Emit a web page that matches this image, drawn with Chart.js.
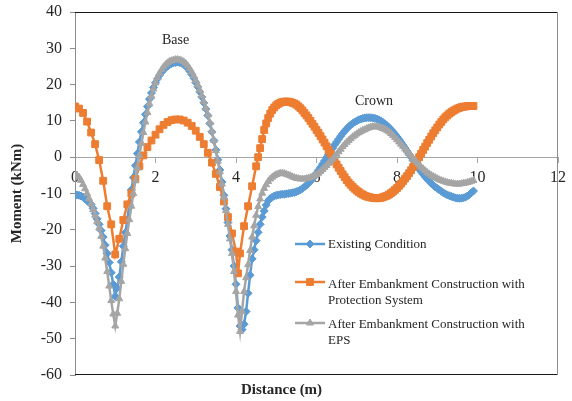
<!DOCTYPE html>
<html><head><meta charset="utf-8">
<script src="https://cdn.jsdelivr.net/npm/chart.js@4"></script>
<style>html,body{margin:0;padding:0;background:#fff}#wrap{width:572px;height:401px}</style>
</head><body><div id="wrap"><canvas id="c" width="572" height="401"></canvas></div>
<script>
// Distance (m) sampling used by the "Existing" and "EPS" series
const distanceFine = [0,0.05,0.1,0.15,0.2,0.25,0.3,0.35,0.4,0.45,0.5,0.55,0.6,0.65,0.7,0.75,0.8,0.85,0.9,0.95,
1,1.05,1.1,1.15,1.2,1.25,1.3,1.35,1.4,1.45,1.5,1.55,1.6,1.65,1.7,1.75,1.8,1.85,1.9,1.95,
2,2.05,2.1,2.15,2.2,2.25,2.3,2.35,2.4,2.45,2.5,2.55,2.6,2.65,2.7,2.75,2.8,2.85,2.9,2.95,
3,3.05,3.1,3.15,3.2,3.25,3.3,3.35,3.4,3.45,3.5,3.55,3.6,3.65,3.7,3.75,3.8,3.85,3.9,3.95,
4,4.05,4.1,4.15,4.2,4.25,4.3,4.35,4.4,4.45,4.5,4.55,4.6,4.65,4.7,4.75,4.8,4.85,4.9,4.95,
5,5.05,5.1,5.15,5.2,5.25,5.3,5.35,5.4,5.45,5.5,5.55,5.6,5.65,5.7,5.75,5.8,5.85,5.9,5.95,
6,6.05,6.1,6.15,6.2,6.25,6.3,6.35,6.4,6.45,6.5,6.55,6.6,6.65,6.7,6.75,6.8,6.85,6.9,6.95,
7,7.05,7.1,7.15,7.2,7.25,7.3,7.35,7.4,7.45,7.5,7.55,7.6,7.65,7.7,7.75,7.8,7.85,7.9,7.95,
8,8.05,8.1,8.15,8.2,8.25,8.3,8.35,8.4,8.45,8.5,8.55,8.6,8.65,8.7,8.75,8.8,8.85,8.9,8.95,
9,9.05,9.1,9.15,9.2,9.25,9.3,9.35,9.4,9.45,9.5,9.55,9.6,9.65,9.7,9.75,9.8,9.85,9.9];
const existing = [-10.5,-10.4,-10.5,-10.7,-11.0,-11.4,-12.0,-12.4,-13.0,-14.1,-15.5,-17.0,-18.5,-20.2,-22.0,-24.2,-26.5,-29.0,-31.8,-35.0,
-38.3,-36.0,-33.0,-28.8,-24.5,-20.8,-17.3,-13.0,-9.0,-5.6,-2.3,1.0,4.2,7.0,9.5,11.8,14.0,16.0,17.7,19.2,
20.5,21.6,22.6,23.4,24.1,24.6,25.1,25.5,25.8,26.0,26.1,26.2,26.1,25.9,25.6,25.1,24.5,23.7,22.8,21.8,
20.6,19.4,18.0,16.6,15.0,13.3,11.5,9.3,7.0,4.6,2.0,-0.7,-3.5,-6.8,-10.5,-14.2,-18.0,-21.7,-25.5,-30.0,
-35.0,-41.5,-46.5,-47.5,-46.0,-42.5,-37.5,-32.5,-28.0,-25.5,-23.0,-20.7,-18.5,-16.5,-14.8,-13.2,-12.0,-11.4,-11.0,-10.7,
-10.5,-10.4,-10.3,-10.2,-10.2,-10.1,-10.0,-9.9,-9.8,-9.7,-9.5,-9.3,-9.0,-8.6,-8.2,-7.7,-7.2,-6.6,-5.9,-5.2,
-4.4,-3.6,-2.8,-1.9,-1.0,-0.1,0.8,1.7,2.5,3.4,4.2,5.0,5.8,6.5,7.2,7.8,8.4,8.9,9.3,9.7,
10.0,10.3,10.5,10.7,10.8,10.9,10.9,10.9,10.8,10.7,10.5,10.3,10.0,9.6,9.2,8.7,8.2,7.6,7.0,6.3,
5.6,4.9,4.1,3.3,2.5,1.7,0.8,0.0,-0.9,-1.7,-2.5,-3.3,-4.0,-4.7,-5.4,-6.0,-6.6,-7.2,-7.7,-8.2,
-8.6,-9.0,-9.4,-9.8,-10.1,-10.4,-10.6,-10.8,-11.0,-11.2,-11.3,-11.3,-11.3,-11.2,-11.0,-10.7,-10.3,-9.8,-9.3];
const eps = [-4.8,-5.0,-5.5,-6.4,-7.5,-8.7,-10.0,-11.4,-12.8,-14.4,-16.0,-17.7,-19.5,-21.8,-24.5,-27.8,-31.5,-35.5,-39.5,-43.2,
-46.5,-43.0,-39.0,-34.2,-29.5,-25.2,-21.0,-17.2,-13.5,-10.0,-6.5,-3.0,0.5,3.8,6.8,9.7,12.3,14.7,16.8,18.8,
20.5,21.9,23.1,24.1,24.9,25.5,26.0,26.4,26.6,26.8,26.9,26.9,26.8,26.6,26.3,25.8,25.2,24.4,23.5,22.4,
21.2,19.9,18.5,17.0,15.3,13.5,11.7,9.5,7.2,4.6,1.8,-1.1,-4.0,-7.4,-11.0,-14.7,-18.5,-22.5,-26.5,-31.5,
-37.0,-43.5,-48.0,-42.5,-37.0,-33.2,-29.6,-25.7,-22.0,-18.9,-16.0,-13.6,-11.5,-9.9,-8.6,-7.6,-6.7,-6.0,-5.5,-5.1,
-4.8,-4.6,-4.4,-4.4,-4.5,-4.7,-4.9,-5.1,-5.4,-5.6,-5.8,-5.9,-6.0,-6.0,-6.0,-5.9,-5.8,-5.6,-5.4,-5.1,
-4.8,-4.4,-3.9,-3.4,-2.8,-2.3,-1.7,-1.1,-0.5,0.2,0.8,1.5,2.2,2.9,3.5,4.1,4.6,5.1,5.6,6.0,
6.4,6.8,7.1,7.4,7.6,7.9,8.1,8.3,8.4,8.4,8.4,8.3,8.1,7.9,7.7,7.4,7.0,6.5,6.0,5.4,
4.8,4.2,3.6,3.0,2.3,1.7,1.0,0.4,-0.3,-0.9,-1.5,-2.1,-2.7,-3.2,-3.7,-4.2,-4.6,-5.0,-5.3,-5.6,
-5.9,-6.2,-6.4,-6.6,-6.8,-7.0,-7.1,-7.2,-7.3,-7.4,-7.4,-7.4,-7.3,-7.2,-7.1,-7.0,-6.8,-6.6,-6.4];
// Distance (m) sampling used by the "Protection System" series
const distanceProt = [0,0.1,0.2,0.3,0.4,0.5,0.6,0.7,0.8,0.9,1.0,1.1,1.2,1.3,1.4,1.5,1.6,1.7,1.8,1.9,
2.0,2.1,2.2,2.3,2.4,2.5,2.6,2.7,2.8,2.9,3.0,3.1,3.2,3.3,3.4,3.5,3.6,3.7,3.8,3.9,
4.0,4.05,4.1,4.2,4.3,4.4,
4.5,4.55,4.6,4.65,4.7,4.75,4.8,4.85,4.9,4.95,
5,5.05,5.1,5.15,5.2,5.25,5.3,5.35,5.4,5.45,5.5,5.55,5.6,5.65,5.7,5.75,5.8,5.85,5.9,5.95,
6,6.05,6.1,6.15,6.2,6.25,6.3,6.35,6.4,6.45,6.5,6.55,6.6,6.65,6.7,6.75,6.8,6.85,6.9,6.95,
7,7.05,7.1,7.15,7.2,7.25,7.3,7.35,7.4,7.45,7.5,7.55,7.6,7.65,7.7,7.75,7.8,7.85,7.9,7.95,
8,8.05,8.1,8.15,8.2,8.25,8.3,8.35,8.4,8.45,8.5,8.55,8.6,8.65,8.7,8.75,8.8,8.85,8.9,8.95,
9,9.05,9.1,9.15,9.2,9.25,9.3,9.35,9.4,9.45,9.5,9.55,9.6,9.65,9.7,9.75,9.8,9.85,9.9];
const protection = [14.0,13.4,12.2,9.8,6.8,3.6,-0.8,-6.5,-13.5,-18.5,-26.8,-22.5,-17.3,-13.0,-10.0,-6.0,-2.5,0.5,2.8,4.6,
6.2,7.7,8.9,9.7,10.2,10.4,10.4,10.1,9.5,8.6,7.3,5.6,3.6,1.2,-1.5,-4.6,-8.2,-12.2,-16.5,-21.0,
-26.0,-32.0,-26.5,-19.0,-13.5,-8.0,
-2.5,0.0,2.5,5.0,7.5,9.3,10.8,12.0,13.0,13.7,
14.3,14.7,15.0,15.2,15.3,15.35,15.3,15.2,15.0,14.8,14.5,14.0,13.5,12.9,12.2,11.5,10.8,10.0,9.2,8.4,
7.5,6.7,5.8,4.9,4.0,3.0,2.0,1.0,0.0,-1.0,-2.0,-2.9,-3.8,-4.7,-5.5,-6.3,-7.0,-7.6,-8.2,-8.7,
-9.2,-9.6,-10.0,-10.3,-10.6,-10.8,-11.0,-11.1,-11.2,-11.3,-11.3,-11.3,-11.2,-11.0,-10.8,-10.6,-10.3,-9.9,-9.5,-9.0,
-8.5,-7.9,-7.3,-6.6,-5.9,-5.2,-4.4,-3.6,-2.7,-1.8,-0.9,0.0,1.0,2.0,2.9,3.9,4.8,5.7,6.6,7.4,
8.2,9.0,9.7,10.4,11.0,11.5,12.0,12.4,12.8,13.1,13.4,13.6,13.8,13.9,14.0,14.05,14.1,14.1,14.1];
const seriesNames = ['Existing Condition', 'After Embankment Construction with Protection System', 'After Embankment Construction with EPS'];
const legendLines = [['Existing Condition'], ['After Embankment Construction with', 'Protection System'], ['After Embankment Construction with', 'EPS']];
const xTicks = [0,2,4,6,8,10,12];
const yTicks = [-60,-50,-40,-30,-20,-10,0,10,20,30,40];
const notes = [{text:'Base', x:2.5, y:32.2}, {text:'Crown', x:7.43, y:15.4}];

const SERIF = "'Liberation Serif', 'Times New Roman', serif";
const colors = ['#5b9bd5', '#ed7d31', '#a5a5a5'];
const styles = ['rectRot', 'rect', 'triangle'];
const radii = [4, 4.8, 4];
const xs = [distanceFine, distanceProt, distanceFine];
const values = [existing, protection, eps];

function pts(xArr, yArr){
  const n = Math.min(xArr.length, yArr.length);
  const out = [];
  for (let i=0;i<n;i++) out.push({x:xArr[i], y:yArr[i]});
  return out;
}

const datasets = values.map((arr,k)=>({
  label: seriesNames[k],
  data: pts(xs[k], arr),
  borderColor: colors[k],
  backgroundColor: colors[k],
  pointBackgroundColor: colors[k],
  pointBorderColor: colors[k],
  pointBorderWidth: 1,
  pointStyle: styles[k],
  pointRadius: radii[k],
  borderWidth: 2.5,
  tension: 0,
  order: 3-k
}));

const framePlugin = {
  id:'frame',
  beforeDatasetsDraw(chart){
    const {ctx, chartArea:a} = chart;
    ctx.save();
    ctx.lineWidth = 1;
    ctx.strokeStyle = '#1a1a1a';
    ctx.beginPath();
    ctx.moveTo(a.left, a.top+0.5); ctx.lineTo(a.right, a.top+0.5);
    ctx.moveTo(a.left, a.bottom-0.5); ctx.lineTo(a.right, a.bottom-0.5);
    ctx.stroke();
    ctx.strokeStyle = '#8c8c8c';
    ctx.beginPath();
    ctx.moveTo(a.right-0.5, a.top); ctx.lineTo(a.right-0.5, a.bottom);
    ctx.stroke();
    ctx.restore();
  }
};

const notesPlugin = {
  id:'notes',
  afterDatasetsDraw(chart){
    const {ctx, scales} = chart;
    ctx.save();
    ctx.font = '14px ' + SERIF;
    ctx.fillStyle = '#262626';
    ctx.textAlign = 'center';
    ctx.textBaseline = 'middle';
    notes.forEach(n=>ctx.fillText(n.text, scales.x.getPixelForValue(n.x), scales.y.getPixelForValue(n.y)));
    ctx.restore();
  }
};

function drawMarker(ctx, style, r, x, y, color){
  ctx.save();
  ctx.fillStyle = color;
  ctx.strokeStyle = color;
  ctx.lineWidth = 1;
  Chart.helpers.drawPoint(ctx, {pointStyle: style, radius: r, borderWidth: 1, rotation: 0}, x, y);
  ctx.restore();
}

const legendPlugin = {
  id:'customLegend',
  afterDraw(chart){
    const {ctx} = chart;
    const lineY = [244, 282, 323];
    const baseY = [248, 288, 328];
    ctx.save();
    for (let k=0;k<3;k++){
      ctx.strokeStyle = colors[k];
      ctx.lineWidth = 2.5;
      ctx.beginPath();
      ctx.moveTo(295, lineY[k]); ctx.lineTo(325, lineY[k]);
      ctx.stroke();
      drawMarker(ctx, styles[k], radii[k], 310, lineY[k], colors[k]);
      ctx.fillStyle = '#262626';
      ctx.font = '13px ' + SERIF;
      ctx.textAlign = 'left';
      ctx.textBaseline = 'alphabetic';
      legendLines[k].forEach((t,j)=>ctx.fillText(t, 328, baseY[k] + j*15.5));
    }
    ctx.restore();
  }
};

const tickFont = {family: SERIF, size: 16};
new Chart(document.getElementById('c').getContext('2d'), {
  type: 'line',
  data: {datasets},
  options: {
    responsive: false,
    animation: false,
    devicePixelRatio: 1,
    layout: {padding: {left: 0, right: 9, top: 12, bottom: 0}},
    plugins: {
      legend: {display: false},
      tooltip: {enabled: false},
      title: {display: true, text: 'Distance (m)', position: 'bottom', color: '#262626',
              font: {family: SERIF, size: 15, weight: 'bold'}, padding: {top: 6, bottom: 2}}
    },
    scales: {
      x: {
        type: 'linear', min: 0, max: 12, position: {y: 0},
        afterBuildTicks(s){ s.ticks = xTicks.map(v=>({value:v})); },
        ticks: {font: tickFont, color: '#262626', padding: 6, maxRotation: 0},
        grid: {drawOnChartArea: false, drawTicks: true, tickLength: 5, color: '#a6a6a6'},
        border: {color: '#a6a6a6', width: 1}
      },
      y: {
        type: 'linear', min: -60, max: 40,
        afterBuildTicks(s){ s.ticks = yTicks.map(v=>({value:v})); },
        afterFit(s){ s.width = 75; s.paddingTop = 0; s.paddingBottom = 0; },
        ticks: {font: tickFont, color: '#262626', padding: 8},
        grid: {drawOnChartArea: false, drawTicks: true, tickLength: 5, color: '#8c8c8c'},
        border: {color: '#8c8c8c', width: 1},
        title: {display: true, text: 'Moment (kNm)', color: '#262626',
                font: {family: SERIF, size: 15, weight: 'bold'}, padding: {top: 8, bottom: 0}}
      }
    }
  },
  plugins: [framePlugin, notesPlugin, legendPlugin]
});
</script></body></html>
